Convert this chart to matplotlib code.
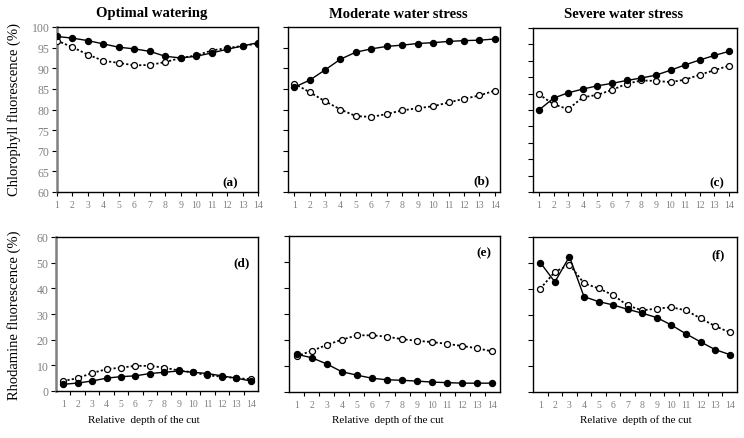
import matplotlib
matplotlib.use("Agg")
import matplotlib.pyplot as plt
import numpy as np

plt.rcParams['font.family'] = ['Liberation Serif', 'DejaVu Serif']

depth = list(range(1, 15))
depth_labels = [str(d) for d in depth]

# Chlorophyll fluorescence (%)
chl_opt_filled = [97.7, 97.3, 96.7, 95.9, 95.1, 94.7, 94.1, 92.9, 92.5, 92.9, 93.7, 94.6, 95.4, 96.2]
chl_opt_open = [96.7, 95.1, 93.3, 91.8, 91.3, 90.7, 90.8, 91.5, 92.5, 93.1, 94.3, 94.9, 95.4, 96.0]
chl_mod_filled = [85.4, 87.1, 89.6, 92.2, 93.9, 94.7, 95.3, 95.6, 96.0, 96.2, 96.5, 96.7, 96.8, 97.1]
chl_mod_open = [86.3, 84.2, 82.0, 80.0, 78.4, 78.2, 78.9, 79.8, 80.3, 80.8, 81.7, 82.6, 83.4, 84.6]
chl_sev_filled = [80.0, 82.9, 84.2, 85.1, 85.9, 86.5, 87.2, 87.8, 88.5, 89.7, 91.0, 92.2, 93.3, 94.3]
chl_sev_open = [83.8, 81.4, 80.2, 83.1, 83.7, 84.9, 86.4, 87.2, 87.1, 86.8, 87.4, 88.6, 89.7, 90.8]

# Rhodamine fluorescence (%)
rho_opt_filled = [2.6, 3.1, 3.9, 5.0, 5.6, 5.9, 6.8, 7.3, 7.8, 7.3, 6.8, 5.9, 5.0, 3.9]
rho_opt_open = [3.9, 5.0, 7.0, 8.5, 9.1, 9.8, 9.8, 9.1, 8.0, 7.3, 6.1, 5.6, 5.0, 4.6]
rho_mod_filled = [14.5, 13.2, 10.8, 7.8, 6.5, 5.3, 4.7, 4.5, 4.2, 3.8, 3.6, 3.4, 3.4, 3.4]
rho_mod_open = [13.8, 15.8, 18.1, 20.1, 21.8, 21.8, 21.3, 20.3, 19.7, 19.2, 18.5, 17.7, 16.8, 15.6]
rho_sev_filled = [50.1, 42.6, 52.4, 36.9, 35.0, 33.7, 32.0, 30.5, 28.8, 25.9, 22.5, 19.4, 16.4, 14.5]
rho_sev_open = [40.0, 46.5, 49.3, 42.1, 40.1, 37.5, 33.5, 31.6, 32.3, 32.8, 31.6, 28.5, 25.5, 23.1]

titles = ["Optimal watering", "Moderate water stress", "Severe water stress"]
panel_tags = ["(a)", "(b)", "(c)", "(d)", "(e)", "(f)"]
ylabel_top = "Chlorophyll fluorescence (%)"
ylabel_bot = "Rhodamine fluorescence (%)"
xlabel = "Relative  depth of the cut"

W, H = 744, 439
fig = plt.figure(figsize=(W / 100, H / 100), dpi=100)
fig.patch.set_facecolor('white')

def ax_at(l, r, t, b):
    return fig.add_axes([l / W, 1 - b / H, (r - l) / W, (b - t) / H])

GRAY = '#808080'

boxes_top = [(57, 258, 28, 193), (288, 500, 28, 193), (533, 737, 29, 193)]
boxes_bot = [(56, 258, 238, 392), (289, 500, 237, 393), (533, 737, 238, 393)]
xlims_top = [(1, 14), (0.6, 14.33), (0.59, 14.55)]

top_data = [(chl_opt_filled, chl_opt_open), (chl_mod_filled, chl_mod_open), (chl_sev_filled, chl_sev_open)]
bot_data = [(rho_opt_filled, rho_opt_open), (rho_mod_filled, rho_mod_open), (rho_sev_filled, rho_sev_open)]

def draw(ax, filled, opened):
    ax.plot(depth, opened, linestyle=(0, (1.2, 1.2)), color='black', lw=1.3,
            marker='o', markersize=4.3, markerfacecolor='white', markeredgecolor='black',
            markeredgewidth=0.9, zorder=3)
    ax.plot(depth, filled, linestyle='-', color='black', lw=1.0,
            marker='o', markersize=4.3, markerfacecolor='black', markeredgecolor='black', zorder=4)
    for s in ax.spines.values():
        s.set_linewidth(1.0)
        s.set_color('black')

for i in range(3):
    l, r, t, b = boxes_top[i]
    ax = ax_at(l, r, t, b)
    draw(ax, *top_data[i])
    ax.set_xlim(*xlims_top[i])
    ax.set_ylim(60, 100)
    if i == 2:
        ax.set_yticks(np.arange(60, 100.1, 4))
    else:
        ax.set_yticks(np.arange(60, 100.1, 5))
    ax.set_xticks(depth)
    ax.set_xticklabels(depth_labels, fontsize=7, color=GRAY)
    ax.tick_params(axis='x', direction='out', length=3, width=0.8, pad=3)
    ax.tick_params(axis='y', direction='out', length=3.5, width=0.8, pad=2,
                   labelsize=8.5, labelcolor=GRAY)
    if i != 0:
        ax.set_yticklabels([])
    else:
        ax.spines['left'].set_color(GRAY)
        ax.spines['left'].set_linewidth(1.8)

for i in range(3):
    l, r, t, b = boxes_bot[i]
    ax = ax_at(l, r, t, b)
    draw(ax, *bot_data[i])
    ax.set_xlim(0.5, 14.5)
    ax.set_ylim(0, 60)
    ax.set_yticks(np.arange(0, 60.1, 10))
    ax.set_xticks(depth)
    ax.set_xticklabels(depth_labels, fontsize=7, color=GRAY)
    ax.set_xticks(np.arange(1.5, 14.5, 1), minor=True)
    ax.tick_params(axis='x', which='major', length=0, pad=6)
    ax.tick_params(axis='x', which='minor', direction='out', length=3, width=0.8)
    ax.tick_params(axis='y', direction='out', length=3.5, width=0.8, pad=2,
                   labelsize=8.5, labelcolor=GRAY)
    if i != 0:
        ax.set_yticklabels([])
    else:
        ax.spines['left'].set_color(GRAY)
        ax.spines['left'].set_linewidth(1.8)

# titles
for x, s in zip([152, 398, 624], titles):
    fig.text(x / W, 1 - 14 / H, s, ha='center', va='center', fontsize=10.5, fontweight='bold')

# panel tags
tag_pos = [(230, 183), (481, 181), (717, 183), (242, 263), (484, 253), (718, 255)]
for (x, y), s in zip(tag_pos, panel_tags):
    fig.text(x / W, 1 - y / H, s, ha='center', va='center', fontsize=9.5, fontweight='bold')

# axis labels
fig.text(14 / W, 1 - 110 / H, ylabel_top, rotation=90, ha='center', va='center', fontsize=10.5)
fig.text(14 / W, 1 - 315 / H, ylabel_bot, rotation=90, ha='center', va='center', fontsize=10.5)
for x in [144, 388, 636]:
    fig.text(x / W, 1 - 420 / H, xlabel, ha='center', va='center', fontsize=8)

fig.savefig('out.png', dpi=100, facecolor='white')
